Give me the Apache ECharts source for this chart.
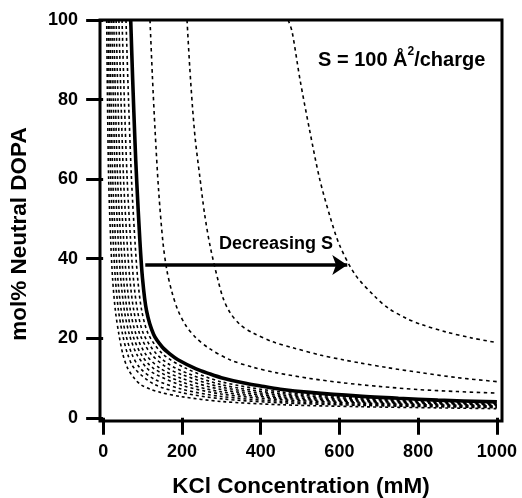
<!DOCTYPE html>
<html>
<head>
<meta charset="utf-8">
<script src="https://cdn.jsdelivr.net/npm/echarts@6/dist/echarts.min.js"></script>
<style>
html,body{margin:0;padding:0;background:#fff;}
#chart{width:522px;height:498px;}
</style>
</head>
<body>
<div id="chart"></div>
<script>
// ---- data (KCl concentration in mM, mol% neutral DOPA) ----
var xTicks = [0, 200, 400, 600, 800, 1000];
var yTicks = [0, 20, 40, 60, 80, 100];

var topCap = [[5,100],[470,100]];

var curveA = [[470,100],[480,97],[500,85],[525,72],[550,60],[575,51],[600,43.5],[640,36],[690,30.5],[725,27.5],[770,25],[810,23.4],[870,21.6],[935,20.1],[1000,18.9]];
var curveC = [[213,100],[220,88],[227,78],[234,70],[245,61],[258,51],[272,43],[292,34.5],[305,30],[322,26.5],[348,23.4],[381,21.3],[431,19.1],[482,17.6],[551,15.8],[609,14.6],[652,13.8],[723,12.6],[810,11.3],[900,10.1],[1000,9.1]];
var curveB = [[119,100],[125,86],[132,72],[141,57],[152,44],[162,37],[175,31.5],[190,27],[210,23.2],[234,20.3],[270,17.4],[322,14.6],[381,12.7],[442,11.3],[525,9.9],[609,8.8],[700,7.9],[800,7.1],[900,6.6],[1000,6.2]];
var boldCurve = [[70,100],[75,85],[81,69],[85,60],[93,45],[100,35],[110,27],[128,21],[150,17.8],[170,16],[190,14.6],[236,12.3],[272,11.0],[300,10.1],[355,8.8],[400,8.0],[450,7.2],[525,6.4],[650,5.45],[750,4.9],[850,4.45],[1000,4.0]];

var cluster1 = [[58,100],[64.4,80],[72,60],[80.4,45],[87.7,35],[97.9,27],[115,21],[152,16],[209,12.5],[300,9.05],[450,6.53],[650,5.04],[850,4.26],[1000,3.89]];
var cluster2 = [[48,100],[53.8,80],[61,60],[69.4,45],[76.9,35],[87.1,27],[103,21],[136,16],[184,12.5],[300,8.35],[450,6.1],[650,4.75],[850,4.04],[1000,3.69]];
var cluster3 = [[40,100],[45.3,80],[51.9,60],[60.3,45],[67.7,35],[77.8,27],[93.2,21],[122,16],[164,12.5],[200,10.85],[300,7.72],[450,5.7],[650,4.48],[850,3.83],[1000,3.5]];
var cluster4 = [[33,100],[37.7,80],[43.8,60],[51.9,45],[59.2,35],[69.1,27],[83.5,21],[108,16],[144,12.5],[200,9.89],[300,7.12],[450,5.31],[650,4.22],[850,3.63],[1000,3.32]];
var cluster5 = [[27,100],[31.2,80],[36.8,60],[44.5,45],[51.6,35],[61.1,27],[74.6,21],[96.3,16],[127,12.5],[200,8.99],[300,6.54],[450,4.94],[650,3.96],[850,3.43],[1000,3.14]];
var cluster6 = [[22,100],[25.7,80],[30.7,60],[38,45],[44.7,35],[53.8,27],[66.4,21],[85.2,16],[111,12.5],[130,11.1],[200,8.15],[300,5.99],[450,4.58],[650,3.71],[850,3.23],[1000,2.96]];
var cluster7 = [[17,100],[20.1,80],[24.5,60],[31.1,45],[37.3,35],[45.9,27],[57.4,21],[73,16],[93.8,12.5],[130,9.7],[200,7.19],[300,5.37],[450,4.17],[650,3.42],[850,3.0],[1000,2.75]];
var cluster8 = [[13,100],[15.6,80],[19.3,60],[25.2,45],[31,35],[38.9,27],[49.3,21],[62.2,16],[78.7,12.5],[130,8.4],[200,6.32],[300,4.79],[450,3.78],[650,3.14],[850,2.78],[1000,2.55]];
var cluster9 = [[9,100],[11,80],[14,60],[19,45],[24,35],[31,27],[40,21],[50,16],[62,12.5],[80,9.8],[96,8.3],[120,7.2],[145,6.4],[200,5.3],[300,4.1],[450,3.3],[650,2.8],[850,2.5],[1000,2.3]];

var arrowX = [107, 620];
var arrowY = 38.4;

var xTitle = 'KCl Concentration (mM)';
var yTitle = 'mol% Neutral DOPA';
var annotation = 'Decreasing S';

// ---- chart ----
var FONT = 'Liberation Sans, Arial, Helvetica, sans-serif';
var chart = echarts.init(document.getElementById('chart'), null, {renderer:'canvas'});

function dotted(data, w, dash) {
  return {
    type: 'line', data: data, showSymbol: false, smooth: 0.3, silent: true,
    lineStyle: {color: '#000', width: w || 1.6, type: dash || [3, 3]},
    z: 2
  };
}

var series = [
  dotted(topCap, 1.6, [2, 2.5]),
  dotted(curveA, 1.6, [3.5, 3.5]),
  dotted(curveC, 1.6, [3.5, 3.5]),
  dotted(curveB, 1.6, [3.5, 3.5]),
  dotted(cluster1), dotted(cluster2), dotted(cluster3), dotted(cluster4), dotted(cluster5),
  dotted(cluster6), dotted(cluster7), dotted(cluster8), dotted(cluster9),
  {
    type: 'line', data: boldCurve, showSymbol: false, smooth: 0.3, silent: true,
    lineStyle: {color: '#000', width: 3.6, type: 'solid'}, z: 5,
    markLine: {
      silent: true, animation: false,
      symbol: ['none', 'arrow'], symbolSize: [15, 15],
      label: {show: false},
      lineStyle: {color: '#000', width: 3.6, type: 'solid'},
      data: [[{coord: [arrowX[0], arrowY]}, {coord: [arrowX[1], arrowY]}]]
    }
  }
];

function plain(v) { return String(v); }

chart.setOption({
  animation: false,
  backgroundColor: '#fff',
  grid: {left: 100, top: 20, right: 20, bottom: 77, containLabel: false, outerBoundsMode: 'none',
         show: true, borderColor: '#000', borderWidth: 3, backgroundColor: 'transparent'},
  xAxis: {
    type: 'value', min: -8, max: 1013,
    splitLine: {show: false},
    axisLine: {show: false},
    axisTick: {show: true, inside: false, length: 17, lineStyle: {color: '#000', width: 3}, customValues: xTicks},
    axisLabel: {color: '#000', fontSize: 18, fontWeight: 'bold', fontFamily: FONT, margin: 22, customValues: xTicks, formatter: plain},
    name: xTitle, nameLocation: 'middle', nameGap: 54,
    nameTextStyle: {color: '#000', fontSize: 22.5, fontWeight: 'bold', fontFamily: FONT}
  },
  yAxis: {
    type: 'value', min: -0.8, max: 100,
    splitLine: {show: false},
    axisLine: {show: false},
    axisTick: {show: true, inside: false, length: 17, lineStyle: {color: '#000', width: 3}, customValues: yTicks},
    axisLabel: {color: '#000', fontSize: 18, fontWeight: 'bold', fontFamily: FONT, margin: 22, customValues: yTicks, formatter: plain}
  },
  graphic: [
    {
      type: 'text', x: 20, y: 234, rotation: Math.PI / 2, z: 10,
      style: {text: yTitle, fontSize: 22.5, fontWeight: 'bold', fontFamily: FONT, fill: '#000', align: 'center', verticalAlign: 'middle'}
    },
    {
      type: 'text', left: 318, top: 46, z: 10,
      style: {
        text: '{a|S = 100 Å}{s|2}{a|/charge}',
        rich: {
          a: {fontSize: 20, fontWeight: 'bold', fontFamily: FONT, fill: '#000', lineHeight: 24, verticalAlign: 'bottom'},
          s: {fontSize: 12, fontWeight: 'bold', fontFamily: FONT, fill: '#000', lineHeight: 24, verticalAlign: 'top'}
        }
      }
    },
    {
      type: 'text', left: 219, top: 235, z: 10,
      style: {text: annotation, fontSize: 18, fontWeight: 'bold', fontFamily: FONT, fill: '#000'}
    }
  ],
  series: series
});
</script>
</body>
</html>
